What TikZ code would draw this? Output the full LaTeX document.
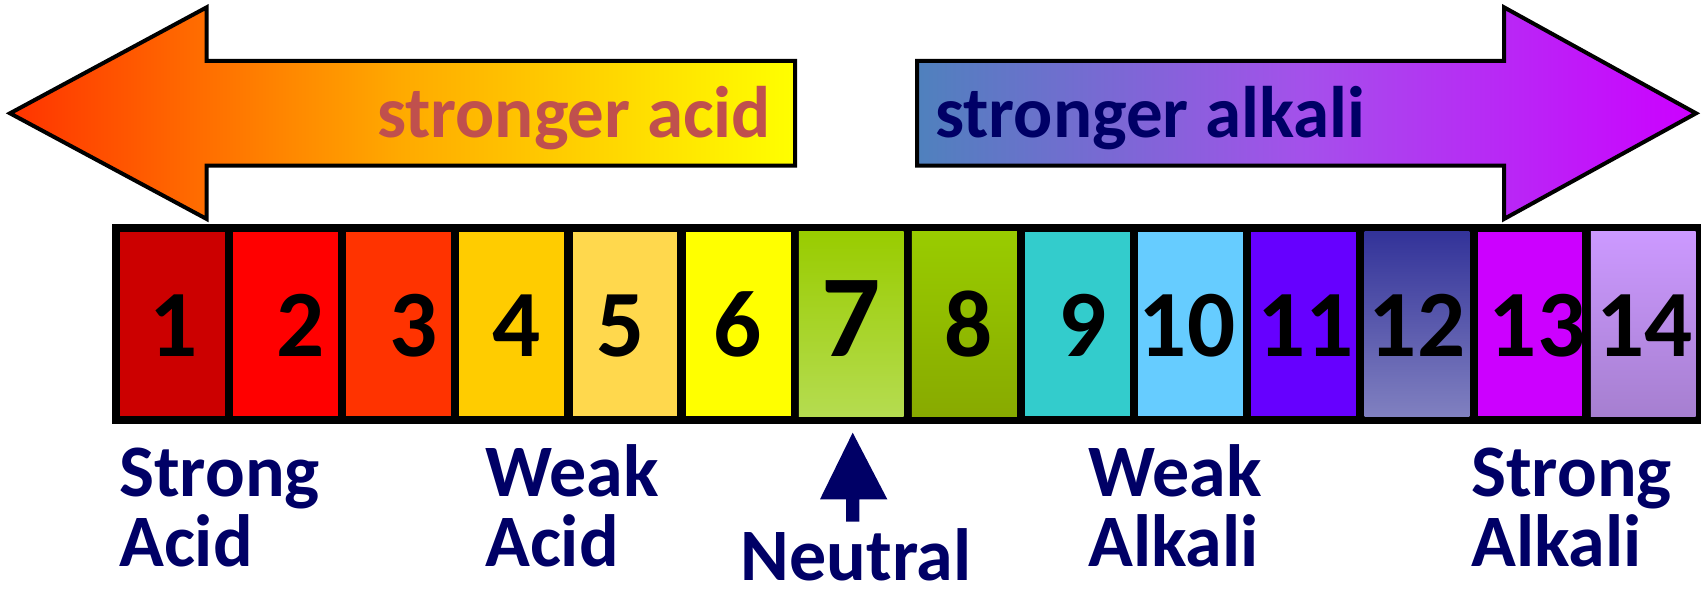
\documentclass[tikz,border=0pt]{standalone}
\usepackage{fontspec}
\setmainfont{Carlito}
\definecolor{labelnavy}{RGB}{0,0,102}
\definecolor{acidtext}{RGB}{192,80,77}
\definecolor{ph1}{HTML}{CC0000}
\definecolor{ph2}{HTML}{FF0000}
\definecolor{ph3}{HTML}{FF3300}
\definecolor{ph4}{HTML}{FFCC00}
\definecolor{ph5}{HTML}{FFD84D}
\definecolor{ph6}{HTML}{FFFF00}
\definecolor{ph7top}{HTML}{99CC00}
\definecolor{ph7bot}{HTML}{B5DC50}
\definecolor{ph8top}{HTML}{99CC00}
\definecolor{ph8bot}{HTML}{88AA00}
\definecolor{ph9}{HTML}{33CCCC}
\definecolor{ph10}{HTML}{66CCFF}
\definecolor{ph11}{HTML}{6600FF}
\definecolor{ph12top}{HTML}{333399}
\definecolor{ph12bot}{HTML}{8080C0}
\definecolor{ph13}{HTML}{CC00FF}
\definecolor{ph14top}{HTML}{CC99FF}
\definecolor{ph14bot}{HTML}{A67FD0}
\definecolor{acidL}{RGB}{255,51,0}
\definecolor{acidM}{RGB}{255,170,0}
\definecolor{acidR}{RGB}{255,255,0}
\definecolor{alkL}{RGB}{79,129,189}
\definecolor{alkM}{RGB}{165,80,235}
\definecolor{alkR}{RGB}{204,0,255}
\begin{document}
\begin{tikzpicture}[x=1pt,y=1pt,
  bigarrow/.style={draw=black,line width=4pt,line join=miter},
  digit/.style={font=\fontsize{95}{95}\selectfont\bfseries,inner sep=0pt,anchor=base},
  bigdigit/.style={digit,font=\fontsize{117}{117}\selectfont\bfseries},
  lbl/.style={font=\fontsize{74}{74}\selectfont\bfseries,text=labelnavy,inner sep=0pt,anchor=base west},
  headtext/.style={font=\fontsize{73}{73}\selectfont\bfseries,inner sep=0pt}]
\useasboundingbox (0,0) rectangle (1701,-591);

% acid direction arrow
\path[bigarrow,left color=acidL,right color=acidR,middle color=acidM]
  (10,-113.3) -- (206.7,-7.3) -- (206.7,-61) -- (795,-61) -- (795,-165.7)
  -- (206.7,-165.7) -- (206.7,-219) -- cycle;
\node[headtext,text=acidtext,anchor=base east] (acidhead) at (771,-138) {stronger acid};

% alkali direction arrow
\path[bigarrow,left color=alkL,right color=alkR,middle color=alkM]
  (917,-61) -- (1504,-61) -- (1504,-7.3) -- (1696,-113.3) -- (1504,-219)
  -- (1504,-165.7) -- (917,-165.7) -- cycle;
\node[headtext,text=labelnavy,anchor=base west] (alkhead) at (935,-138) {stronger alkali};

% pH scale frame and cells
\fill[black] (111.7,-224) rectangle (1701,-424);
\fill[ph1]  (120,-231.7)    rectangle ++(104.8,-184.3);
\fill[ph2]  (233.14,-231.7) rectangle ++(104.8,-184.3);
\fill[ph3]  (346.28,-231.7) rectangle ++(104.8,-184.3);
\fill[ph4]  (459.42,-231.7) rectangle ++(104.8,-184.3);
\fill[ph5]  (572.56,-231.7) rectangle ++(104.8,-184.3);
\fill[ph6]  (685.70,-231.7) rectangle ++(104.8,-184.3);
\shade[top color=ph7top,bottom color=ph7bot] (798.84,-231.7) rectangle ++(104.8,-184.3);
\shade[top color=ph8top,bottom color=ph8bot] (911.98,-231.7) rectangle ++(104.8,-184.3);
\fill[ph9]  (1025.12,-231.7) rectangle ++(104.8,-184.3);
\fill[ph10] (1138.26,-231.7) rectangle ++(104.8,-184.3);
\fill[ph11] (1251.40,-231.7) rectangle ++(104.8,-184.3);
\shade[top color=ph12top,bottom color=ph12bot] (1364.54,-231.7) rectangle ++(104.8,-184.3);
\fill[ph13] (1477.68,-231.7) rectangle ++(104.8,-184.3);
\shade[top color=ph14top,bottom color=ph14bot] (1590.82,-231.7) rectangle ++(104.8,-184.3);

% pH numbers
\node[digit] (d1)  at (173.4,-356)  {1};
\node[digit] (d2)  at (300.5,-356)  {2};
\node[digit] (d3)  at (413.7,-356)  {3};
\node[digit] (d4)  at (516.8,-356)  {4};
\node[digit] (d5)  at (621,-356)    {5};
\node[digit] (d6)  at (738,-356)    {6};
\node[bigdigit] (d7) at (851,-356)  {7};
\node[digit] (d8)  at (968.4,-356)  {8};
\node[digit] (d9)  at (1083,-356)   {9};
\node[digit] (d10) at (1187,-356)   {10};
\node[digit] (d11) at (1305.3,-356) {11};
\node[digit] (d12) at (1417,-356)   {12};
\node[digit] (d13) at (1537,-356)   {13};
\node[digit] (d14) at (1644.7,-356) {14};

% category labels
\node[lbl] (sa1) at (119,-496)   {Strong};
\node[lbl] (sa2) at (119,-566.7) {Acid};
\node[lbl] (wa1) at (485,-496)   {Weak};
\node[lbl] (wa2) at (485,-566.7) {Acid};
\node[lbl] (wb1) at (1088,-496)  {Weak};
\node[lbl] (wb2) at (1088,-566.7){Alkali};
\node[lbl] (sb1) at (1471,-496)  {Strong};
\node[lbl] (sb2) at (1471,-566.7){Alkali};
\node[lbl,anchor=base] (neutral) at (856,-580) {Neutral};

% pointer to neutral
\fill[labelnavy] (852.7,-432.7) -- (887.3,-499.3) -- (859.3,-499.3) -- (859.3,-521.7)
  -- (846,-521.7) -- (846,-499.3) -- (820,-499.3) -- cycle;
\end{tikzpicture}
\end{document}
